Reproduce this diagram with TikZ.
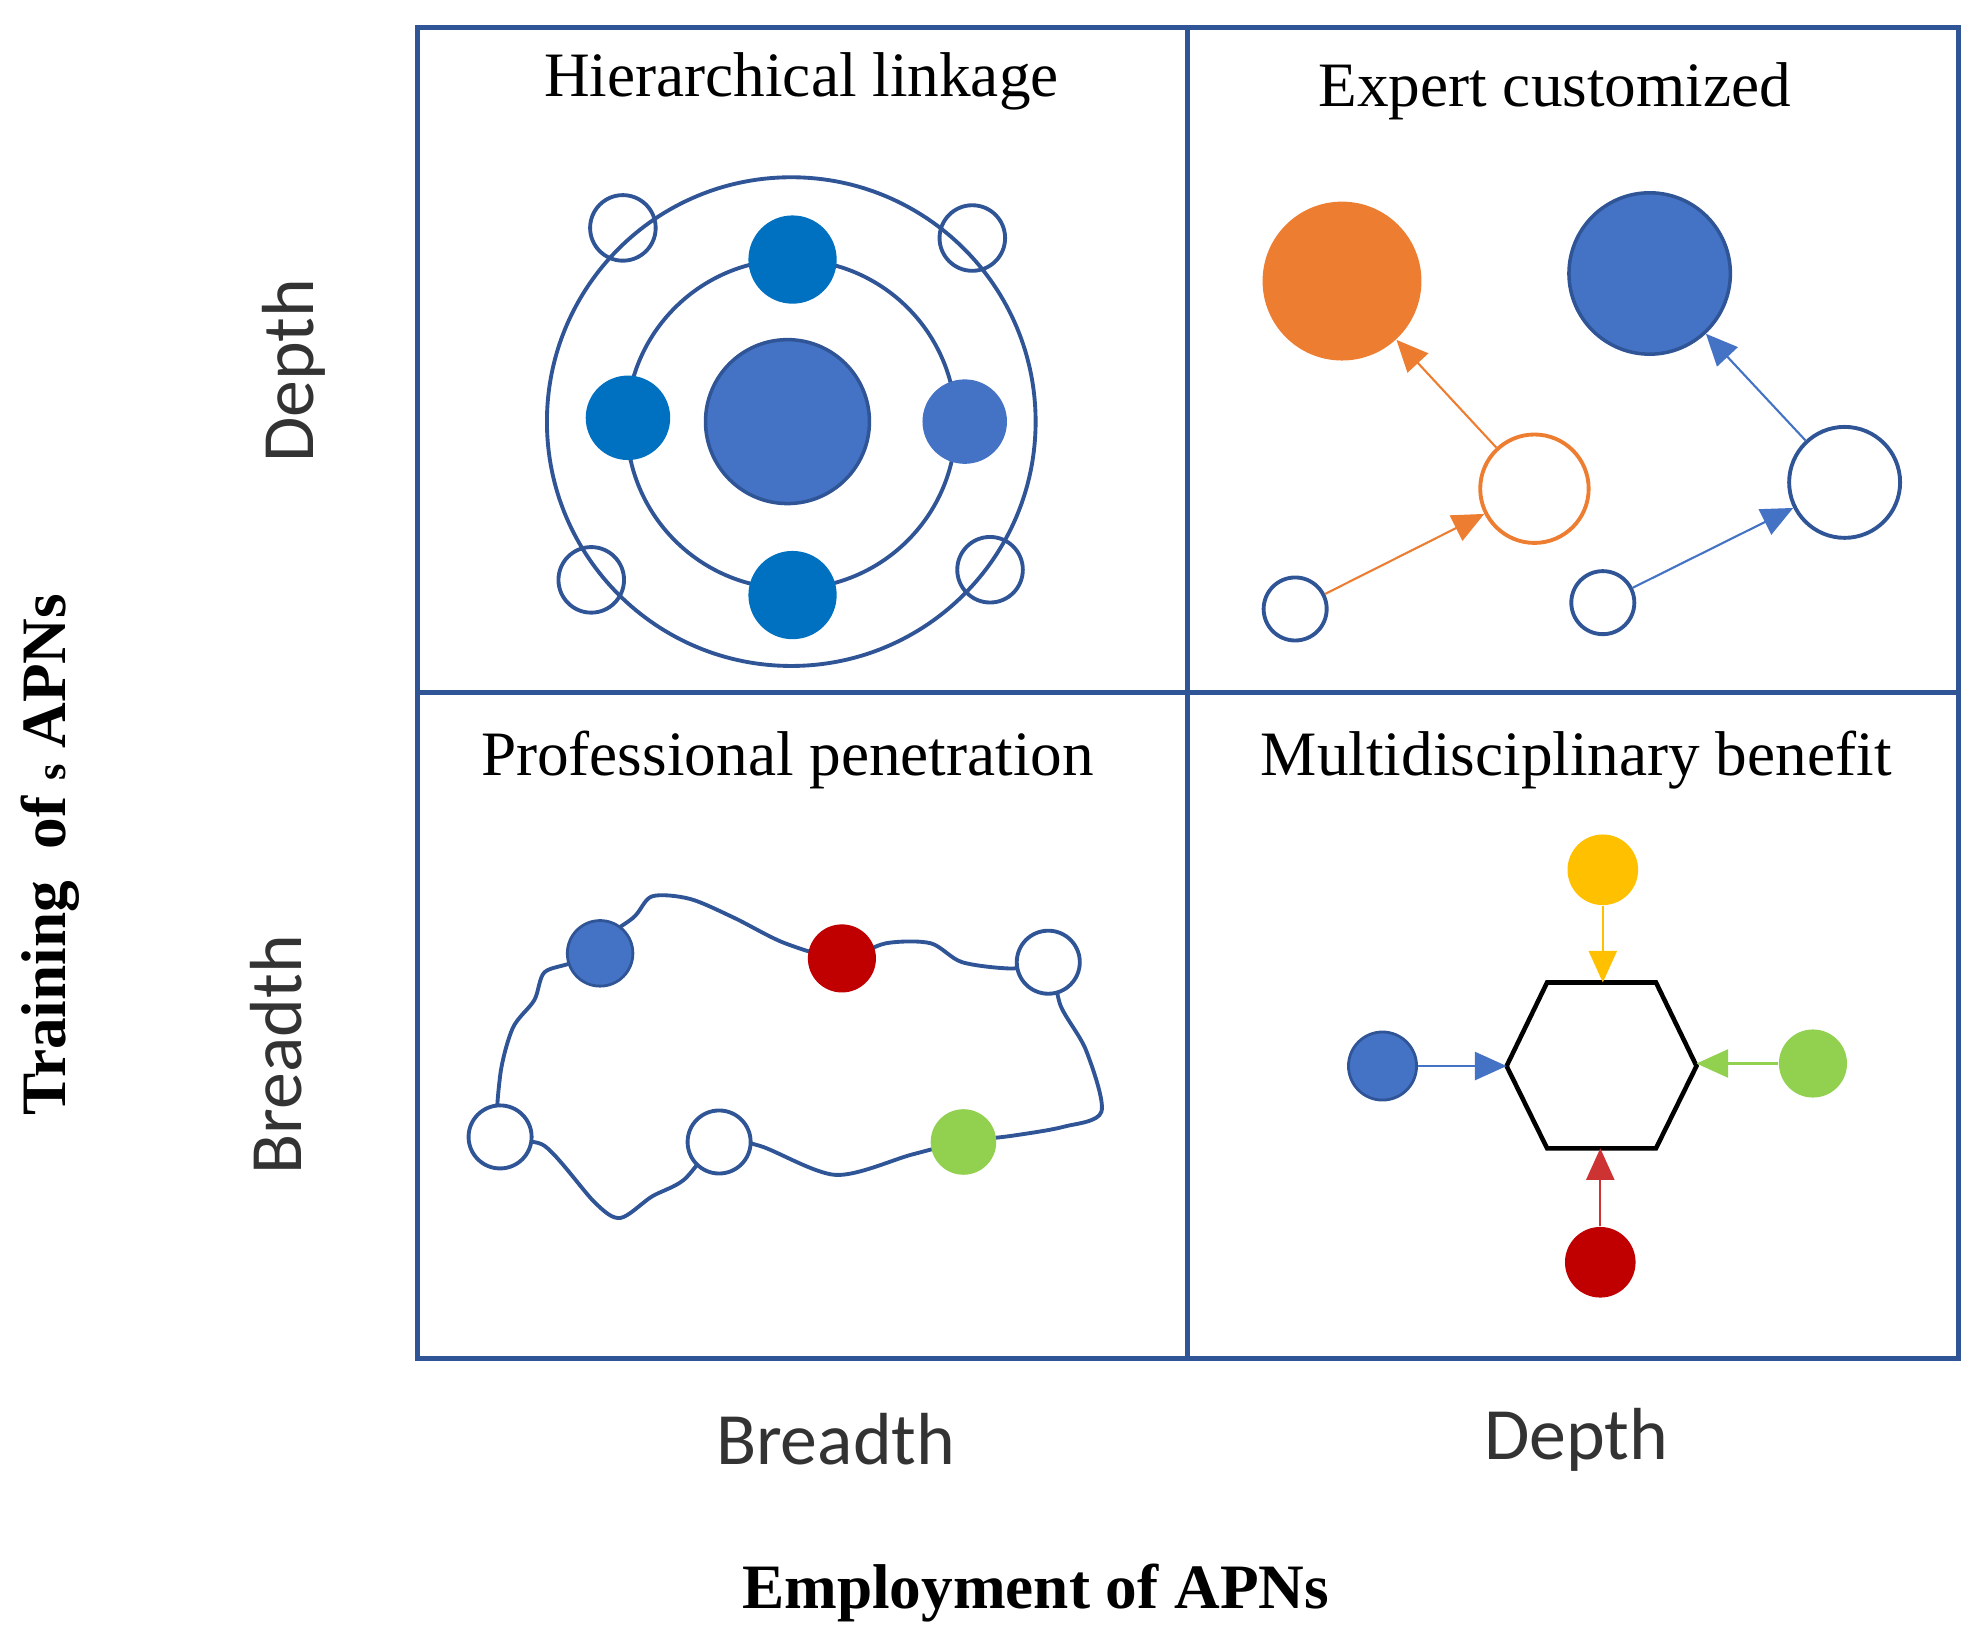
\documentclass[tikz,border=0pt]{standalone}
\usepackage{fontspec}
\setmainfont{Liberation Serif}
\newfontfamily\sansf{Carlito}
\usetikzlibrary{arrows.meta}
\definecolor{gb}{HTML}{2F5597}
\definecolor{mb}{HTML}{4472C4}
\definecolor{db}{HTML}{0070C0}
\definecolor{or}{HTML}{ED7D31}
\definecolor{rd}{HTML}{C00000}
\definecolor{gr}{HTML}{92D050}
\definecolor{ye}{HTML}{FFC000}
\begin{document}
\begin{tikzpicture}[x=0.01266cm,y=-0.01266cm,
  ttl/.style={font=\fontsize{18}{20}\selectfont},
  ax/.style={font=\sansf\fontsize{21}{24}\selectfont,text=black!80},
  bl/.style={font=\bfseries\fontsize{18}{20}\selectfont},
  ln/.style={draw=gb,line width=1.1pt},
  op/.style={circle,draw=gb,line width=1.1pt,fill=white,inner sep=0pt},
  fc/.style={circle,inner sep=0pt},
  sz/.style={minimum size={#1*0.3589pt}},
  ar/.style={-{Triangle[length=9pt,width=8pt]},line width=0.6pt}]
\useasboundingbox (0,0) rectangle (1560,1291);
% grid
\draw[gb,line width=1.4pt] (330,22) rectangle (1547,1073);
\draw[gb,line width=1.4pt] (938,22) -- (938,1073) (330,547) -- (1547,547);
% titles
\node[ttl] (t1) at (633,64) {Hierarchical linkage};
\node[ttl] (t2) at (1228,72) {Expert customized};
\node[ttl] (t3) at (622,600) {Professional penetration};
\node[ttl] (t4) at (1245,600) {Multidisciplinary benefit};
% axes
\node[ax] (xb) at (660,1137) {Breadth};
\node[ax] (xd) at (1245,1137) {Depth};
\node[ax,rotate=90] (yd) at (232,293) {Depth};
\node[ax,rotate=90] (yb) at (218,833) {Breadth};
\node[bl,rotate=90] (yl) at (40,675) {Training\ \ of {\fontsize{12}{12}\selectfont s} APNs};
\node[bl] (xl) at (818,1258) {Employment of APNs};
% Q1
\draw[ln] (625,333) circle (193);
\draw[ln] (625,335) circle (130);
\node[fc,fill=mb,draw=gb,line width=1pt,sz=130] (c0) at (622,333) {};
\node[fc,fill=db,sz=70] (c1) at (626,205) {};
\node[fc,fill=db,sz=67] (c2) at (496,330) {};
\node[fc,fill=mb,sz=67] (c3) at (762,333) {};
\node[fc,fill=db,sz=70] (c4) at (626,470) {};
\node[op,sz=52,fill=none] (o1) at (492,180) {};
\node[op,sz=52,fill=none] (o2) at (768,188) {};
\node[op,sz=52,fill=none] (o3) at (467,458) {};
\node[op,sz=52,fill=none] (o4) at (782,450) {};
% Q2
\node[fc,fill=or,sz=126] (bo) at (1060,222) {};
\node[fc,fill=mb,draw=gb,line width=1pt,sz=128] (bb) at (1303,216) {};
\node[op,draw=or,sz=86] (oo) at (1212,386) {};
\node[op,sz=88] (ob) at (1457,381) {};
\node[op,sz=50] (so) at (1023,481) {};
\node[op,sz=50] (sb) at (1266,476) {};
\draw[ar,or] (so) -- (oo);
\draw[ar,or] (oo) -- (bo);
\draw[ar,mb] (sb) -- (ob);
\draw[ar,mb] (ob) -- (bb);
% Q3
\draw[ln] plot[smooth cycle,tension=0.5] coordinates {
 (430,768) (452,760) (470,745) (500,725) (515,708) (545,710) (580,725) (620,745) (665,757)
 (700,745) (735,745) (760,760) (800,765) (828,760) (838,795) (858,830) (870,878)
 (840,890) (800,897) (760,902) (720,912) (660,928) (600,905) (568,902) (540,932)
 (515,945) (490,962) (470,950) (430,905) (395,898) (395,850) (405,812) (422,790)};
\node[fc,fill=mb,draw=gb,line width=0.8pt,sz=52] (p1) at (474,753) {};
\node[fc,fill=rd,sz=54] (p2) at (665,757) {};
\node[op,sz=50] (p3) at (828,760) {};
\node[op,sz=50] (p4) at (395,898) {};
\node[op,sz=50] (p5) at (568,902) {};
\node[fc,fill=gr,sz=52] (p6) at (761,902) {};
% Q4
\coordinate (ht) at (1266,776);
\coordinate (hb) at (1264,907);
\coordinate (hl) at (1190,842);
\coordinate (hr) at (1340,840);
\draw[black,line width=1.3pt] (1222,776) -- (1308,776) -- (1340,842) -- (1308,907) -- (1222,907) -- (1190,842) -- cycle;
\node[fc,fill=ye,sz=56] (my) at (1266,687) {};
\node[fc,fill=mb,draw=gb,line width=0.8pt,sz=54] (mbc) at (1092,842) {};
\node[fc,fill=gr,sz=54] (mg) at (1432,840) {};
\node[fc,fill=rd,sz=56] (mr) at (1264,997) {};
\draw[ar,ye] (my) -- (ht);
\draw[ar,mb] (mbc) -- (hl);
\draw[ar,gr] (mg) -- (hr);
\draw[ar,rd!80] (mr) -- (hb);
\end{tikzpicture}
\end{document}
